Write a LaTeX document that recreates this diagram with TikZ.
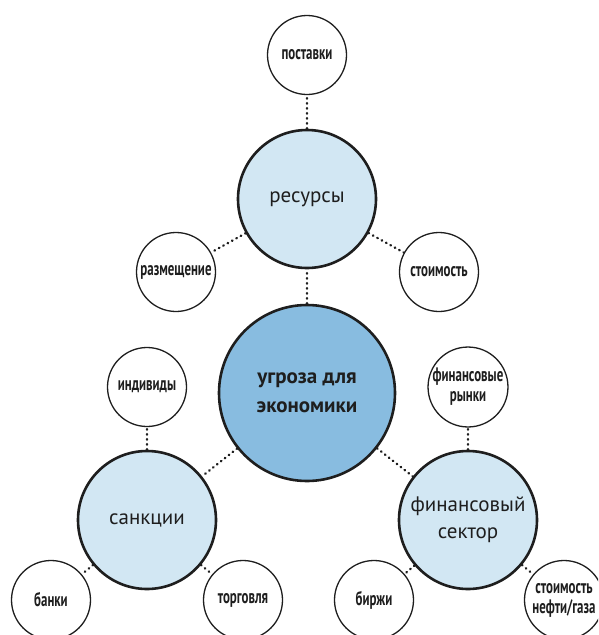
\documentclass[tikz,border=0pt]{standalone}
\usepackage{fontspec}
\setmainfont{PT Sans}
\newfontfamily\condfont[FakeStretch=0.66]{PT Sans}
\usepackage{tikz}
\usetikzlibrary{positioning}
\usepackage{xcolor}
\definecolor{palebl}{HTML}{D2E7F3}
\definecolor{midbl}{HTML}{88BCE0}
\definecolor{ink}{HTML}{1E1E1E}

\begin{document}
\begin{tikzpicture}[x=1pt, y=1pt, on grid,
    hub/.style={circle, draw=ink, line width=2.6pt, fill=midbl, minimum size=176pt,
       inner sep=0pt, align=center, font=\fontsize{21}{29}\selectfont\bfseries, text=ink},
    topic/.style={circle, draw=ink, line width=2.6pt, fill=palebl, minimum size=138pt,
       inner sep=0pt, align=center, font=\fontsize{21}{27}\selectfont, text=ink},
    leaf/.style={circle, draw=ink, line width=1.3pt, fill=white, minimum size=79pt,
       inner sep=0pt, align=center, font=\condfont\bfseries\fontsize{19.5}{20}\selectfont, text=ink},
    link/.style={draw=ink, line width=2.4pt, line cap=round, dash pattern=on 0.6pt off 4.4pt}]
  \useasboundingbox (0,0) rectangle (598,-635);
  \clip (0,0) rectangle (598,-635);
    % middle
    \node[hub] (hub) at (307,-393) {угроза для\\экономики};
    \node[topic, above=194pt of hub] (res) {ресурсы};
    \node[topic, below left=127pt and 160pt of hub] (sanc) {санкции};
    \node[topic, below right=127pt and 161pt of hub] (fin) {финансовый\\сектор};
    % leaves
    \node[leaf, above=144pt of res] (supply) {поставки};
    \node[leaf, below left=73pt and 131pt of res] (place) {размещение};
    \node[leaf, below right=73pt and 132pt of res] (cost) {стоимость};
    \node[leaf, above=133pt of sanc] (indiv) {индивиды};
    \node[leaf, below left=80pt and 96pt of sanc] (banks) {банки};
    \node[leaf, below right=80pt and 96pt of sanc] (trade) {торговля};
    \node[leaf, above=133pt of fin] (mkts) {финансовые\\рынки};
    \node[leaf, below left=80pt and 94pt of fin] (exch) {биржи};
    \node[leaf, below right=80pt and 96pt of fin] (oil) {стоимость\\нефти/газа};
    % connectors
    \path[link] (hub) -- (res) (hub) -- (sanc) (hub) -- (fin);
    \path[link] (res) -- (supply) (res) -- (place) (res) -- (cost);
    \path[link] (sanc) -- (indiv) (sanc) -- (banks) (sanc) -- (trade);
    \path[link] (fin) -- (mkts) (fin) -- (exch) (fin) -- (oil);
\end{tikzpicture}
\end{document}
